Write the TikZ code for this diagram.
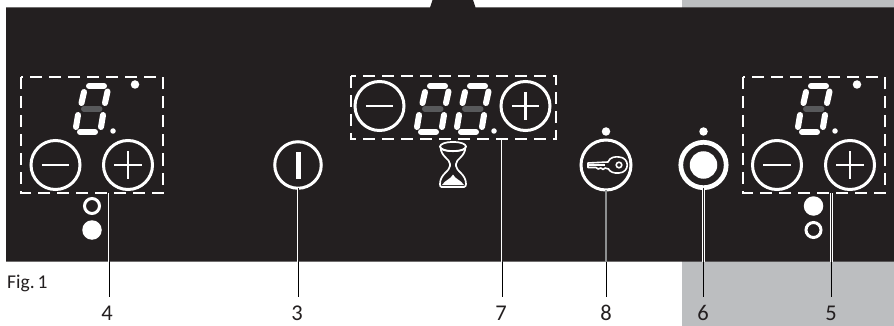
\documentclass[tikz,border=0pt]{standalone}
\usepackage{fontspec}
\setmainfont{Carlito}
\definecolor{panel}{HTML}{231F20}
\definecolor{sidegray}{HTML}{BCBEC0}
\definecolor{midseg}{HTML}{58595B}
\tikzset{
  x=1pt,y=-1pt,
  btn/.style={circle,draw=white,line width=3pt,minimum size=49pt,inner sep=0pt,outer sep=0pt},
  ringdot/.style={circle,draw=white,line width=3pt,minimum size=15pt,inner sep=0pt},
  filldot/.style={circle,fill=white,minimum size=19.5pt,inner sep=0pt},
  led/.style={circle,fill=white,minimum size=8.5pt,inner sep=0pt},
  smallled/.style={circle,fill=white,minimum size=5.5pt,inner sep=0pt},
  dashbox/.style={draw=white,line width=2pt,dash pattern=on 12pt off 7pt},
  seg/.style={white,line width=6pt,line cap=round},
  midsegment/.style={midseg,line width=6pt,line cap=round},
  leadout/.style={black,line width=0.9pt},
  leadin/.style={white,line width=2.8pt},
  leadcore/.style={panel,line width=1pt},
  numlabel/.style={font=\fontsize{22.5}{22.5}\selectfont,text=panel,inner sep=0pt,anchor=base},
  pics/digit/.style={code={
    \draw[midsegment] (-8,-0.3) -- (7.5,-0.3);
    \draw[seg] (-3,-23) -- (12,-23);
    \draw[seg] (-12,23) -- (3,23);
    \draw[seg] (-8,-17) -- (-10.5,-6);
    \draw[seg] (-14,6) -- (-16,18);
    \draw[seg] (15.5,-17.5) -- (13,-6);
    \draw[seg] (11,6) -- (9,18);
  }},
  pics/minusbar/.style={code={\draw[white,line width=2.7pt] (-13.7,0) -- (13.7,0);}},
  pics/plusbar/.style={code={\draw[white,line width=2.7pt] (-13.7,0) -- (13.7,0) (0,-13.7) -- (0,13.7);}},
}
\begin{document}
\begin{tikzpicture}
\useasboundingbox (0,0) rectangle (894,326);
\fill[white] (0,0) rectangle (894,326);
\fill[sidegray] (681.5,0) rectangle (894,326);
\fill[panel] (6,7.5) -- (430,7.5) -- (432.5,0) -- (473,0) -- (475.5,7.5) -- (894,7.5) -- (894,261.5) -- (6,261.5) -- cycle;

% connector anchors
\coordinate (panelA) at (109,261.5);
\coordinate (panelB) at (298,261.5);
\coordinate (panelC) at (502,261.5);
\coordinate (panelD) at (606,261.5);
\coordinate (panelE) at (703.5,261.5);
\coordinate (panelF) at (831.5,261.5);
\coordinate (startA) at (109,193);
\coordinate (startC) at (502,140);
\coordinate (startF) at (831.5,193);
\coordinate (endA) at (109,297);
\coordinate (endB) at (298,297);
\coordinate (endC) at (502,297);
\coordinate (endD) at (606,297);
\coordinate (endE) at (703.5,297);
\coordinate (endF) at (831.5,297);

% controls
\node[btn] (minusL) at (55.5,165) {};
\node[btn] (plusL) at (128,165) {};
\node[btn,minimum size=46.5pt] (power) at (298,165) {};
\node[btn] (minusC) at (379.5,106) {};
\node[btn] (plusC) at (525.5,106) {};
\node[btn,minimum size=50pt] (keyb) at (606,165) {};
\node[btn,line width=4.7pt,minimum size=45.4pt] (main) at (703.5,165) {};
\node[btn] (minusR) at (777,165) {};
\node[btn] (plusR) at (850,165) {};
\node[circle,fill=white,minimum size=27.5pt,inner sep=0pt] (maincore) at (703.5,165) {};

% leaders
\draw[leadin] (startA) -- (panelA);
\draw[leadcore] (startA) -- (panelA);
\draw[leadin] (power) -- (panelB);
\draw[leadcore] (power) -- (panelB);
\draw[leadin] (startC) -- (panelC);
\draw[leadcore] (startC) -- (panelC);
\draw[sidegray!75!black,line width=2pt] (keyb) -- (panelD);
\draw[leadin] (main) -- (panelE);
\draw[leadcore] (main) -- (panelE);
\draw[leadin] (startF) -- (panelF);
\draw[leadcore] (startF) -- (panelF);
\draw[leadout] (panelA) -- (endA);
\draw[leadout] (panelB) -- (endB);
\draw[leadout] (panelC) -- (endC);
\draw[leadout] (panelD) -- (endD);
\draw[leadout] (panelE) -- (endE);
\draw[leadout] (panelF) -- (endF);

% dashed groups
\draw[dashbox] (21,77) rectangle (162.5,193);
\draw[dashbox] (350.5,76) rectangle (555.5,139.5);
\draw[dashbox] (743,77) rectangle (884.5,193);

% button glyphs
\pic at (minusL) {minusbar};
\pic at (plusL) {plusbar};
\pic at (minusC) {minusbar};
\pic at (plusC) {plusbar};
\pic at (minusR) {minusbar};
\pic at (plusR) {plusbar};
\fill[white] (296,152) rectangle (300.5,178.5);

% digits
\pic at (92,109) {digit};
\pic at (433,109) {digit};
\pic at (473,109) {digit};
\pic at (814,109) {digit};

% dots
\node[led] (ledL) at (135,84.5) {};
\node[smallled] (decL) at (113,131) {};
\node[smallled] (decC) at (494,131) {};
\node[led] (ledK) at (606,131.5) {};
\node[led] (ledM) at (703.5,131.5) {};
\node[led] (ledR) at (857,84.5) {};
\node[smallled] (decR) at (835,131) {};
\node[ringdot] (ringL) at (92,206) {};
\node[filldot] (fillL) at (92,230) {};
\node[filldot] (fillR) at (813.5,206) {};
\node[ringdot] (ringR) at (813.5,230) {};

% hourglass
\draw[white,line width=1.7pt,rounded corners=1pt]
  (440.5,147) .. controls (441,157) and (450,159) .. (450,165)
  .. controls (450,171) and (440,174) .. (440,185) -- (440.5,187) -- (465,187) -- (466,185)
  .. controls (466,174) and (456,171) .. (456,165)
  .. controls (456,159) and (465,157) .. (465.5,147);
\draw[white,line width=1.7pt] (453,146.5) ellipse [x radius=13, y radius=4.6];
\draw[white,line width=1.3pt] (442,149.5) .. controls (447,152) and (459,152) .. (464,149.5);
\fill[white] (453,174.5) .. controls (451,179) and (445,180) .. (442,185) -- (464,185) .. controls (461,180) and (455,179) .. (453,174.5) -- cycle;

% key
\draw[white,line width=1.6pt,fill=panel,line join=round]
  (588,163) -- (608,162) .. controls (610,157) and (615,156.5) .. (619,157)
  .. controls (630,157.5) and (630,172.5) .. (619,173)
  .. controls (614,173.5) and (610,172) .. (608.5,169)
  -- (605,168) -- (603,169.5) -- (601,168) -- (598,169) -- (596,167.5) -- (588,167.5) -- cycle;
\fill[white] (589,164) rectangle (605,166);
\draw[white,line width=1.6pt] (619,165) circle [radius=2.8];

% labels
\node[anchor=west,inner sep=0pt,font=\fontsize{19.5}{19.5}\selectfont,text=panel] (fig) at (7,283) {Fig.\hspace{3pt}1};
\node[numlabel] (n4) at (107,320.3) {4};
\node[numlabel] (n3) at (297,320.3) {3};
\node[numlabel] (n7) at (501,320.3) {7};
\node[numlabel] (n8) at (606,320.3) {8};
\node[numlabel] (n6) at (703,320.3) {6};
\node[numlabel] (n5) at (831,320.3) {5};
\end{tikzpicture}
\end{document}
